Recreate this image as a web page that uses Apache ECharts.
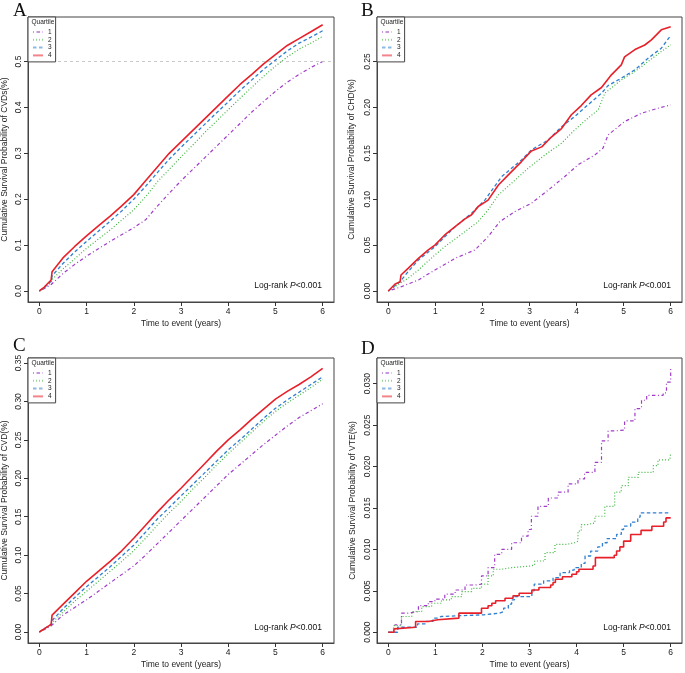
<!DOCTYPE html>
<html>
<head>
<meta charset="utf-8">
<script src="https://cdn.jsdelivr.net/npm/echarts@6/dist/echarts.min.js"></script>
<style>html,body{margin:0;padding:0;background:#fff;}#c{width:685px;height:673px;}</style>
</head>
<body>
<div id="c"></div>
<script>
// ---------------- DATA ----------------
const quartiles = ['1', '2', '3', '4'];
const panelLetters = ['A', 'B', 'C', 'D'];
const yTitles = [
  'Cumulative Survival Probability of CVDs(%)',
  'Cumulative Survival Probability of CHD(%)',
  'Cumulative Survival Probability of CVD(%)',
  'Cumulative Survival Probability of VTE(%)'
];
const xTitle = 'Time to event (years)';
const xTicks = [0, 1, 2, 3, 4, 5, 6];
const yTicksA = [0, 0.1, 0.2, 0.3, 0.4, 0.5];
const yTicksB = [0, 0.05, 0.10, 0.15, 0.20, 0.25];
const yTicksC = [0, 0.05, 0.10, 0.15, 0.20, 0.25, 0.30, 0.35];
const yTicksD = [0, 0.005, 0.010, 0.015, 0.020, 0.025, 0.030];

// Panel A (CVDs)
const aT = [0,0.1,0.25,0.27,0.5,0.75,1,1.25,1.5,1.75,2,2.25,2.5,2.75,3,3.25,3.5,3.75,4,4.25,4.5,4.75,5,5.25,5.5,5.75,6];
const a1 = [0,0.005,0.014,0.018,0.038,0.058,0.076,0.092,0.108,0.123,0.138,0.155,0.185,0.213,0.24,0.265,0.29,0.315,0.34,0.365,0.39,0.413,0.435,0.455,0.472,0.487,0.5];
const a2 = [0,0.006,0.018,0.025,0.048,0.07,0.093,0.113,0.133,0.155,0.177,0.205,0.238,0.265,0.292,0.318,0.345,0.37,0.395,0.42,0.444,0.468,0.49,0.51,0.527,0.54,0.555];
const a3 = [0,0.007,0.021,0.033,0.06,0.085,0.108,0.13,0.152,0.175,0.2,0.228,0.258,0.287,0.313,0.338,0.363,0.388,0.412,0.437,0.46,0.483,0.503,0.523,0.54,0.553,0.567];
const a4 = [0,0.008,0.024,0.042,0.072,0.097,0.12,0.142,0.163,0.186,0.21,0.24,0.27,0.3,0.325,0.35,0.375,0.4,0.425,0.45,0.472,0.495,0.515,0.535,0.55,0.565,0.58];
const refLineA = 0.5;

// Panel B (CHD)
const b1T = [0,0.28,0.64,0.99,1.42,1.84,2.12,2.37,2.69,3.04,3.4,3.75,4.03,4.39,4.56,4.67,5.02,5.38,5.73,6];
const b1 = [0,0.0047,0.012,0.0229,0.0356,0.0447,0.0592,0.0756,0.0865,0.0956,0.110,0.1247,0.1374,0.1483,0.1555,0.170,0.1846,0.1937,0.1991,0.2028];
const b2T = [0,0.25,0.42,0.64,0.99,1.2,1.63,1.91,2.12,2.34,2.62,2.97,3.33,3.68,3.96,4.24,4.46,4.6,4.95,5.24,5.52,5.8,6];
const b2 = [0,0.0084,0.0138,0.0229,0.0392,0.0483,0.0647,0.0756,0.0883,0.1047,0.1174,0.1337,0.1483,0.161,0.1755,0.1882,0.1973,0.2155,0.23,0.2391,0.25,0.2609,0.2682];
const b3T = [0,0.25,0.42,0.64,0.99,1.2,1.42,1.77,2.05,2.41,2.83,3.04,3.4,3.68,3.96,4.24,4.53,4.67,4.95,5.24,5.52,5.8,6];
const b3 = [0,0.010,0.021,0.0338,0.0483,0.059,0.070,0.0847,0.099,0.1247,0.1428,0.1537,0.1646,0.179,0.19,0.2027,0.2155,0.2238,0.2318,0.241,0.2536,0.2645,0.2783];
const b4T = [0,0.14,0.25,0.27,0.42,0.64,0.85,0.99,1.2,1.42,1.63,1.77,1.91,2.12,2.34,2.55,2.83,3.04,3.26,3.47,3.68,3.89,4.1,4.31,4.53,4.74,4.95,5.02,5.24,5.45,5.59,5.8,6];
const b4 = [0,0.0073,0.010,0.0174,0.0247,0.0356,0.0447,0.050,0.061,0.070,0.0785,0.083,0.092,0.099,0.1155,0.1265,0.141,0.1526,0.157,0.168,0.177,0.192,0.202,0.2137,0.2217,0.2355,0.2464,0.255,0.263,0.268,0.2736,0.2845,0.288];

// Panel C (CVD)
const cT = [0,0.1,0.25,0.27,0.5,0.75,1,1.25,1.5,1.75,2,2.25,2.5,2.75,3,3.25,3.5,3.75,4,4.25,4.5,4.75,5,5.25,5.5,5.75,6];
const c1 = [0,0.003,0.008,0.01,0.022,0.032,0.042,0.053,0.064,0.075,0.086,0.1,0.115,0.13,0.145,0.16,0.175,0.19,0.205,0.218,0.231,0.244,0.256,0.268,0.279,0.288,0.297];
const c2 = [0,0.003,0.009,0.012,0.026,0.04,0.053,0.066,0.079,0.092,0.106,0.122,0.139,0.155,0.17,0.186,0.201,0.217,0.232,0.246,0.26,0.274,0.287,0.298,0.308,0.318,0.329];
const c3 = [0,0.004,0.01,0.015,0.03,0.045,0.059,0.072,0.085,0.099,0.113,0.13,0.147,0.162,0.177,0.192,0.207,0.222,0.237,0.25,0.264,0.278,0.291,0.302,0.312,0.322,0.332];
const c4 = [0,0.004,0.01,0.022,0.036,0.051,0.066,0.079,0.092,0.106,0.122,0.139,0.156,0.172,0.187,0.203,0.219,0.235,0.25,0.263,0.277,0.29,0.303,0.313,0.322,0.332,0.343];

// Panel D (VTE), step curves
const d1T = [0,0.14,0.28,0.42,0.64,0.85,0.99,1.2,1.42,1.63,1.84,1.98,2.12,2.26,2.41,2.62,2.83,2.97,3.04,3.18,3.4,3.61,3.82,4.03,4.17,4.39,4.53,4.67,4.81,5.02,5.24,5.38,5.49,5.66,5.84,5.91,6];
const d1 = [0,0.0009,0.0023,0.0025,0.0032,0.0037,0.0040,0.0046,0.0051,0.0057,0.0058,0.0068,0.0078,0.0094,0.0100,0.0108,0.0116,0.0124,0.0140,0.0152,0.0162,0.0169,0.0179,0.0185,0.0193,0.0205,0.0231,0.0243,0.0244,0.0255,0.0270,0.0280,0.0286,0.0286,0.0289,0.0302,0.0318];
const d2T = [0,0.11,0.28,0.5,0.71,0.92,1.13,1.34,1.56,1.77,1.98,2.12,2.23,2.41,2.62,2.83,3.01,3.11,3.33,3.54,3.78,3.96,4.03,4.10,4.24,4.39,4.60,4.81,4.95,5.10,5.31,5.52,5.63,5.73,5.98,6];
const d2 = [0,0.0008,0.0019,0.0025,0.0031,0.0035,0.0039,0.0043,0.0049,0.0053,0.0058,0.0068,0.0076,0.0078,0.0079,0.0080,0.0081,0.0086,0.0096,0.0106,0.0108,0.0110,0.0122,0.0130,0.0132,0.0140,0.0152,0.0169,0.0177,0.0187,0.0193,0.0193,0.0201,0.0208,0.0208,0.0216];
const d3T = [0,0.2,0.62,0.8,0.95,1.05,1.12,2.02,2.36,2.45,2.55,2.62,2.68,3.05,3.1,3.3,3.5,3.65,3.85,3.95,4.1,4.18,4.3,4.45,4.55,4.65,4.85,4.95,5.0,5.15,5.3,5.35,6];
const d3 = [0,0.0006,0.0010,0.0013,0.0017,0.0019,0.0021,0.0023,0.0025,0.0029,0.0034,0.0039,0.0043,0.0050,0.0058,0.0062,0.0066,0.0072,0.0075,0.0078,0.0083,0.0092,0.0098,0.0103,0.0108,0.0113,0.0118,0.0124,0.0128,0.0133,0.0139,0.0144,0.0144];
const d4T = [0,0.12,0.15,0.58,0.85,1.05,1.5,1.98,2.12,2.2,2.28,2.48,2.65,2.78,3.05,3.2,3.45,3.5,3.55,3.7,3.9,4.0,4.05,4.35,4.4,4.8,4.85,4.92,5.0,5.15,5.37,5.6,5.85,5.9,6];
const d4 = [0,0.0004,0.0006,0.0013,0.0015,0.0017,0.0023,0.0029,0.0032,0.0035,0.0038,0.0041,0.0044,0.0047,0.0051,0.0054,0.0057,0.0060,0.0064,0.0067,0.0070,0.0073,0.0076,0.0080,0.0090,0.0093,0.0098,0.0103,0.0110,0.0118,0.0123,0.0128,0.0133,0.0138,0.0138];

// ---------------- STYLE / LAYOUT ----------------
const FONT = '"Liberation Sans", Arial, Helvetica, sans-serif';
const SERIF = '"Liberation Serif", "Times New Roman", serif';
const colors = ['#A03CC8', '#3CB43C', '#2F7FD0', '#E8202A'];
const dashes = [[1, 2.5, 3.5, 2.5], [1, 2], [3.5, 2.5], 'solid'];
const widths = [1.2, 1.2, 1.3, 1.6];

const grids = [
  {left: 28, top: 17, width: 306, height: 285},
  {left: 377, top: 17, width: 305, height: 285},
  {left: 28, top: 358, width: 306, height: 285},
  {left: 377, top: 358, width: 305, height: 285}
];
const yRanges = [
  {min: -0.024, max: 0.597, ticks: yTicksA, dec: 1},
  {min: -0.012, max: 0.2985, ticks: yTicksB, dec: 2},
  {min: -0.0143, max: 0.3565, ticks: yTicksC, dec: 2},
  {min: -0.0013, max: 0.0331, ticks: yTicksD, dec: 3}
];
const nameGaps = [19, 21, 19, 20];

const zip = (t, v) => t.map((x, i) => [x, v[i]]);
const panelData = [
  [zip(aT, a1), zip(aT, a2), zip(aT, a3), zip(aT, a4)],
  [zip(b1T, b1), zip(b2T, b2), zip(b3T, b3), zip(b4T, b4)],
  [zip(cT, c1), zip(cT, c2), zip(cT, c3), zip(cT, c4)],
  [zip(d1T, d1), zip(d2T, d2), zip(d3T, d3), zip(d4T, d4)]
];

const axisLineStyle = {show: true, onZero: false, lineStyle: {color: '#444', width: 1}};
const xAxes = grids.map((g, i) => ({
  gridIndex: i, type: 'value', min: -0.24, max: 6.24,
  axisLine: axisLineStyle, splitLine: {show: false},
  axisTick: {show: true, inside: false, length: 4, customValues: xTicks, lineStyle: {color: '#333', width: 1}},
  axisLabel: {customValues: xTicks, margin: 5, fontSize: 8.5, color: '#222', fontFamily: FONT, formatter: v => String(v)},
  name: xTitle, nameLocation: 'middle', nameGap: 17,
  nameTextStyle: {fontSize: 8.5, color: '#222', fontFamily: FONT}
}));
const yAxes = grids.map((g, i) => ({
  gridIndex: i, type: 'value', min: yRanges[i].min, max: yRanges[i].max,
  axisLine: axisLineStyle, splitLine: {show: false},
  axisTick: {show: true, inside: false, length: 4, customValues: yRanges[i].ticks, lineStyle: {color: '#333', width: 1}},
  axisLabel: {customValues: yRanges[i].ticks, rotate: 90, margin: 5, fontSize: 8.5, color: '#222', fontFamily: FONT,
    formatter: v => Number(v).toFixed(yRanges[i].dec)},
  name: yTitles[i], nameLocation: 'middle', nameGap: nameGaps[i],
  nameTextStyle: {fontSize: 8.5, color: '#222', fontFamily: FONT}
}));

const series = [];
panelData.forEach((pd, p) => {
  pd.forEach((d, q) => {
    const s = {
      type: 'line', name: quartiles[q], xAxisIndex: p, yAxisIndex: p, data: d,
      symbol: 'none', showSymbol: false, silent: true, animation: false,
      step: p === 3 ? 'end' : false,
      itemStyle: {color: colors[q]},
      lineStyle: {color: colors[q], width: widths[q], type: dashes[q]}
    };
    if (p === 0 && q === 0) {
      s.markLine = {silent: true, symbol: 'none', label: {show: false},
        lineStyle: {color: '#bbbbbb', type: [3, 3], width: 0.8}, data: [{yAxis: refLineA}]};
    }
    series.push(s);
  });
});

const legends = grids.map(g => ({
  orient: 'vertical', left: g.left, top: g.top, data: quartiles,
  itemWidth: 10, itemHeight: 6, itemGap: 0.8, padding: [11.5, 4, 3, 4],
  backgroundColor: '#fff', borderColor: '#444', borderWidth: 1, borderRadius: 0,
  selectedMode: false, z: 10,
  itemStyle: {opacity: 0, borderWidth: 0},
  lineStyle: {opacity: 0.55},
  textStyle: {fontSize: 6.5, lineHeight: 6, color: '#222', fontFamily: FONT}
}));

const titles = [];
const letterPos = [[13, 2], [361, 2], [13, 337], [361, 340]];
letterPos.forEach((pp, i) => titles.push({
  text: panelLetters[i], left: pp[0], top: pp[1], padding: 0,
  textStyle: {fontFamily: SERIF, fontSize: 19, fontWeight: 'normal', color: '#111'}
}));
const logPos = [[363, 281], [14, 281], [363, 623], [14, 623]];
logPos.forEach(pp => titles.push({
  text: '{a|Log-rank }{b|P}{a|<0.001}', right: pp[0], top: pp[1], padding: 0,
  textStyle: {fontWeight: 'normal', rich: {
    a: {fontSize: 8.5, fontFamily: FONT, color: '#111', fontWeight: 'normal'},
    b: {fontSize: 8.5, fontFamily: FONT, color: '#111', fontWeight: 'normal', fontStyle: 'italic'}
  }}
}));

const graphics = grids.map(g => ({
  type: 'text', left: g.left + 3.5, top: g.top + 2, z: 100,
  style: {text: 'Quartile', fontSize: 6.5, fontFamily: FONT, fill: '#222'}
}));

const chart = echarts.init(document.getElementById('c'), null, {renderer: 'canvas'});
chart.setOption({
  animation: false,
  backgroundColor: '#fff',
  title: titles,
  legend: legends,
  grid: grids.map(g => Object.assign({show: true, borderColor: '#444', borderWidth: 1, backgroundColor: 'transparent', containLabel: false, outerBoundsMode: 'none'}, g)),
  xAxis: xAxes,
  yAxis: yAxes,
  series: series,
  graphic: graphics
});
</script>
</body>
</html>
